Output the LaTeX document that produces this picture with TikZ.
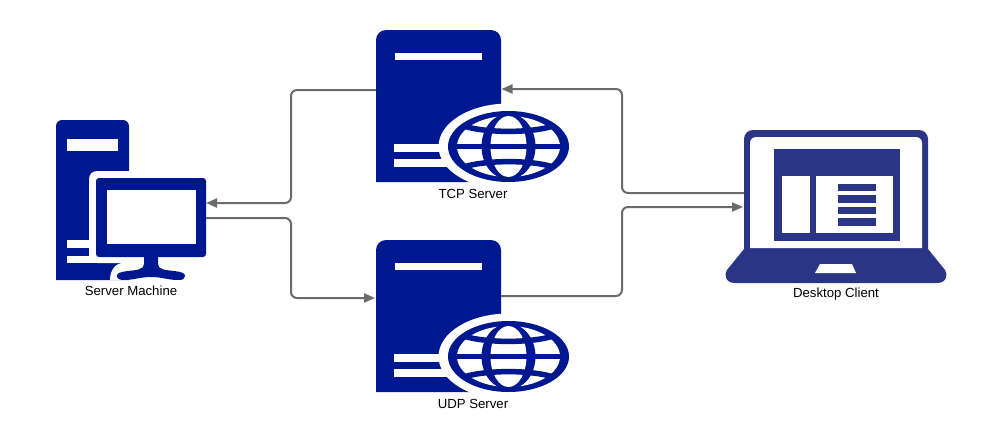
\documentclass[tikz,border=0pt]{standalone}
\usepackage{fontspec}
\setmainfont{Liberation Sans}
\usetikzlibrary{arrows.meta}
\definecolor{servernavy}{HTML}{00188F}
\definecolor{laptopblue}{HTML}{2B3585}
\definecolor{linkgrey}{HTML}{6B6B6B}
\tikzset{
  x=1pt,y=-1pt,
  iconbox/.style={inner sep=0pt,outer sep=0pt,anchor=north west,rectangle},
  caption/.style={inner sep=0pt,font=\fontsize{13.2}{15}\selectfont,text=black},
  link/.style={draw=linkgrey,line width=2pt,rounded corners=6pt},
  linkarrow/.style={link,-{Triangle[length=11pt,width=9pt]}},
  webserver/.pic={
    \node[iconbox,minimum width=125pt,minimum height=152pt] (-box) at (0,0) {};
    \fill[servernavy] (0,152) -- (0,10) arc[start angle=180,end angle=270,radius=10] -- (115,0)
      arc[start angle=270,end angle=360,radius=10] -- (125,152) -- cycle;
    \fill[white] (19,23) rectangle (106,30);
    \fill[white] (18,114) rectangle (90,122);
    \fill[white] (18,129) rectangle (100,137);
    \fill[white] (132.5,116.5) ellipse [x radius=70,y radius=43];
    \begin{scope}[shift={(132.5,116.5)}]
      \fill[servernavy] (0,0) ellipse [x radius=60.5,y radius=35.5];
      \fill[white] (0,0) ellipse [x radius=51.5,y radius=30.5];
      \fill[servernavy] (0,0) ellipse [x radius=27,y radius=33];
      \fill[white] (0,0) ellipse [x radius=18,y radius=30.5];
      \clip (0,0) ellipse [x radius=58,y radius=33];
      \draw[servernavy,line width=5.5pt] (-54,0) -- (54,0);
      \draw[servernavy,line width=5.5pt] (-48,-21.5) .. controls (-25,-13) and (25,-13) .. (48,-21.5);
      \draw[servernavy,line width=5.5pt] (-48,21.5) .. controls (-25,13) and (25,13) .. (48,21.5);
    \end{scope}
  },
}
\begin{document}
\begin{tikzpicture}
\useasboundingbox (0,0) rectangle (996,434);
\fill[white] (0,0) rectangle (996,434);

% Server machine
\node[iconbox,minimum width=150pt,minimum height=160pt] (machine) at (56,120) {};
\fill[servernavy] (56,280) -- (56,126) arc[start angle=180,end angle=270,radius=6] -- (123,120)
  arc[start angle=270,end angle=360,radius=6] -- (129,280) -- cycle;
\fill[white] (67,139) rectangle (118,151);
\fill[white] (67,240) rectangle (100,248);
\fill[white] (67,256) rectangle (120,263);
\fill[white,rounded corners=8pt] (89,171) rectangle (220,263);
\fill[white] (130,256) -- (122,263) .. controls (114,264) and (110,272) .. (110,280) -- (200,280) -- (200,256) -- cycle;
\fill[servernavy,rounded corners=3pt] (96,178) rectangle (206,257);
\fill[white] (107,190) rectangle (196,244);
\fill[servernavy] (144,256) -- (144,264) .. controls (144,270) and (136,270) .. (128,271)
  .. controls (120,272) and (117,273) .. (117,276) .. controls (117,279) and (120,280) .. (124,280)
  .. controls (134,280) and (140,277) .. (151,277) .. controls (162,277) and (168,280) .. (178,280)
  .. controls (183,280) and (185,279) .. (185,276) .. controls (185,273) and (182,272) .. (174,271)
  .. controls (166,270) and (158,270) .. (158,264) -- (158,256) -- cycle;
\node[caption] (machinelabel) at (131,291) {Server Machine};

% TCP and UDP servers
\pic (tcp) at (376,30) {webserver};
\node[caption] (tcplabel) at (473,194) {TCP Server};
\pic (udp) at (376,240) {webserver};
\node[caption] (udplabel) at (473,404) {UDP Server};

% Desktop client
\node[iconbox,minimum width=184pt,minimum height=153pt] (client) at (744,130) {};
\fill[laptopblue,rounded corners=9pt] (744,260) -- (744,130) -- (928,130) -- (928,260) -- cycle;
\fill[laptopblue] (744,249) -- (928,249) -- (945,270) .. controls (948,274) and (947,283) .. (937,283)
  -- (735,283) .. controls (725,283) and (724,274) .. (727,270) -- cycle;
\fill[white] (750,248) -- (750,143) arc[start angle=180,end angle=270,radius=6] -- (916,137)
  arc[start angle=270,end angle=360,radius=6] -- (922,248) -- cycle;
\fill[laptopblue] (774,149) rectangle (900,241);
\fill[white] (782,176) rectangle (810,233);
\fill[white] (816,176) rectangle (893,233);
\fill[laptopblue] (838,184) rectangle (876,191);
\fill[laptopblue] (838,195) rectangle (876,203);
\fill[laptopblue] (838,207) rectangle (876,214);
\fill[laptopblue] (838,218) rectangle (876,226);
\fill[white] (820,264) -- (852,264) -- (856,273) -- (815,273) -- cycle;
\node[caption] (clientlabel) at (836,294) {Desktop Client};

% Connectors
\draw[linkarrow] ([yshift=16pt]tcp-box.west) -| (291,203) -- ([yshift=-3pt]machine.east);
\draw[linkarrow] ([yshift=-18pt]machine.east) -| (291,298) -- ([xshift=-1pt,yshift=18pt]udp-box.west);
\draw[linkarrow] ([yshift=13.5pt]client.west) -| (622,89) -- ([xshift=0.5pt,yshift=17pt]tcp-box.east);
\draw[linkarrow] ([yshift=20pt]udp-box.east) -| (622,207) -- ([xshift=-1pt,yshift=-0.5pt]client.west);
\end{tikzpicture}
\end{document}
